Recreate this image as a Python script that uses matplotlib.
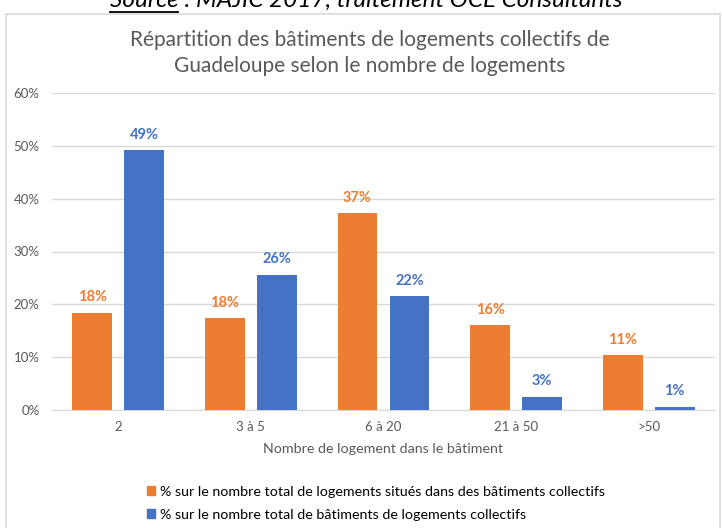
import matplotlib
matplotlib.use("Agg")
from matplotlib import pyplot as plt
from matplotlib.patches import Patch, Rectangle
from matplotlib.lines import Line2D
import numpy as np

plt.rcParams["font.family"] = ["Lato", "DejaVu Sans"]

categories = ["2", "3 à 5", "6 à 20", "21 à 50", ">50"]
pct_logements = [18.4, 17.4, 37.2, 16.0, 10.4]
pct_batiments = [49.2, 25.6, 21.5, 2.5, 0.6]
labels_logements = ["18%", "18%", "37%", "16%", "11%"]
labels_batiments = ["49%", "26%", "22%", "3%", "1%"]

ORANGE = "#ED7D31"
BLUE = "#4472C4"
GREY = "#595959"
GRID = "#d9d9d9"

W, H = 722, 528
fig = plt.figure(figsize=(W / 100, H / 100), dpi=100)


def fx(px):
    return px / W


def fy(py):
    return 1 - py / H


# chart border
fig.patches.append(Rectangle((fx(6), fy(540)), fx(714), fy(14) - fy(540),
                             transform=fig.transFigure, fill=False,
                             edgecolor=GRID, linewidth=1.2))

# source caption, cut off by the top edge as in the scan
cap = fig.text(fx(366), fy(7), "Source : MAJIC 2017, traitement OCE Consultants",
               ha="center", va="baseline", fontsize=17.5, style="italic",
               color="black")
word = fig.text(0, 0, "Source", fontsize=17.5, style="italic", alpha=0)
fig.canvas.draw()
r = fig.canvas.get_renderer()
x0 = cap.get_window_extent(r).x0
x1 = x0 + word.get_window_extent(r).width
word.remove()
fig.add_artist(Line2D([x0 / W, x1 / W], [fy(12), fy(12)], color="black",
                      linewidth=1.3, transform=fig.transFigure))

fig.text(fx(370), fy(40), "Répartition des bâtiments de logements collectifs de",
         ha="center", va="center", fontsize=15, color=GREY)
fig.text(fx(370), fy(66), "Guadeloupe selon le nombre de logements",
         ha="center", va="center", fontsize=15, color=GREY)

ax = fig.add_axes([fx(52), fy(410), fx(715) - fx(52), fy(93) - fy(410)])
x = np.arange(len(categories))
w = 0.30
off = 0.196
b1 = ax.bar(x - off, pct_logements, w, color=ORANGE, zorder=3)
b2 = ax.bar(x + off, pct_batiments, w, color=BLUE, zorder=3)

for rect, lab in zip(b1, labels_logements):
    ax.annotate(lab, (rect.get_x() + rect.get_width() / 2, rect.get_height()),
                xytext=(0, 6), textcoords="offset points", ha="center",
                va="bottom", fontsize=10.5, fontweight="bold", color=ORANGE)
for rect, lab in zip(b2, labels_batiments):
    ax.annotate(lab, (rect.get_x() + rect.get_width() / 2, rect.get_height()),
                xytext=(0, 6), textcoords="offset points", ha="center",
                va="bottom", fontsize=10.5, fontweight="bold", color=BLUE)

ax.set_xlim(-0.5, len(categories) - 0.5)
ax.set_ylim(0, 60)
ax.set_yticks(np.arange(0, 61, 10))
ax.set_yticklabels([f"{v}%" for v in range(0, 61, 10)])
ax.set_xticks(x)
ax.set_xticklabels(categories)
ax.grid(axis="y", color=GRID, linewidth=1, zorder=0)
for s in ["top", "right", "left"]:
    ax.spines[s].set_visible(False)
ax.spines["bottom"].set_color(GRID)
ax.tick_params(axis="both", length=0, labelsize=9.5, labelcolor=GREY)
ax.tick_params(axis="y", pad=9)
ax.tick_params(axis="x", pad=8)
ax.set_xlabel("Nombre de logement dans le bâtiment", fontsize=10.3,
              color=GREY, labelpad=7)

handles = [Patch(color=ORANGE,
                 label="% sur le nombre total de logements situés dans des bâtiments collectifs"),
           Patch(color=BLUE,
                 label="% sur le nombre total de bâtiments de logements collectifs")]
fig.legend(handles=handles, loc="upper left",
           bbox_to_anchor=(fx(134), fy(473)), frameon=False,
           handlelength=0.6, handleheight=0.6, handletextpad=0.3,
           labelspacing=0.75, fontsize=10.3, labelcolor="black")

fig.savefig("out.png", dpi=100, facecolor="white")
